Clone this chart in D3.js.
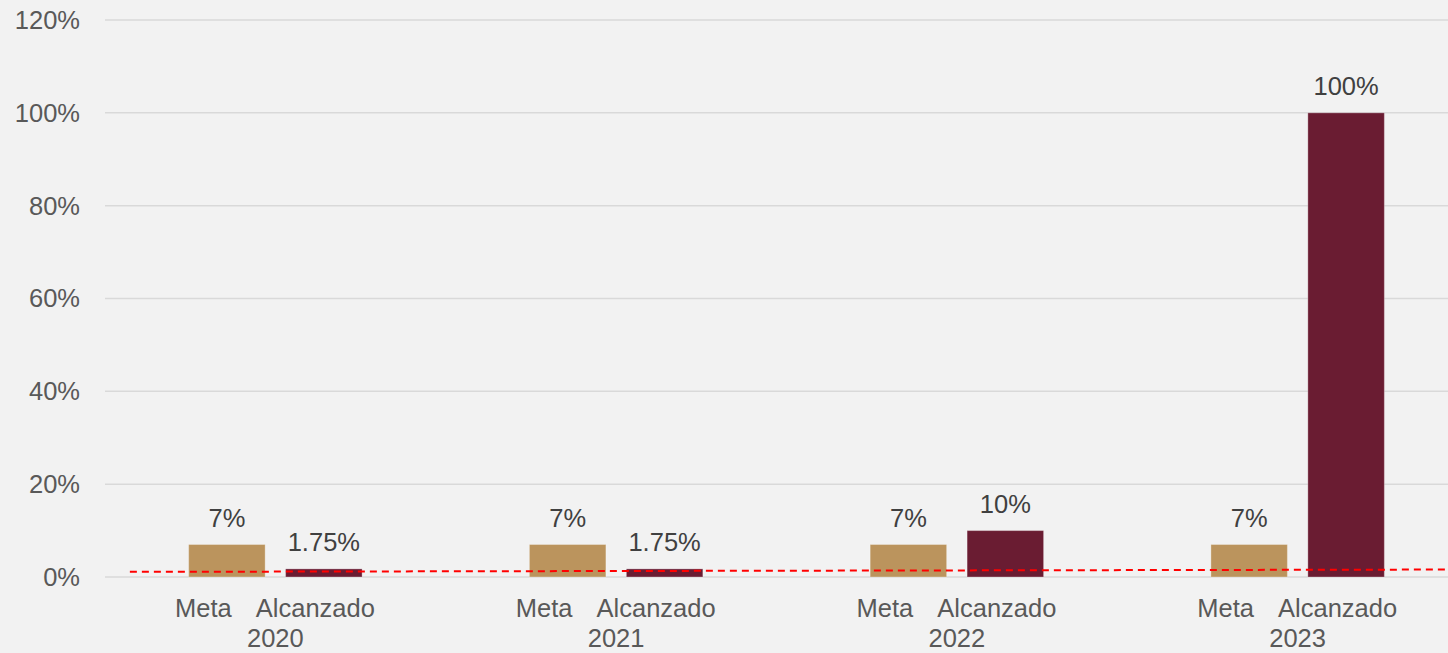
<!DOCTYPE html>
<html>
<head>
<meta charset="utf-8">
<script src="https://cdn.jsdelivr.net/npm/d3@7"></script>
<style>
  body { margin: 0; background: #f2f2f2; }
  svg { display: block; font-family: "Liberation Sans", Arial, sans-serif; }
</style>
</head>
<body>
<div id="chart"></div>
<script>
let years = ["2020", "2021", "2022", "2023"];
let series = ["Meta", "Alcanzado"];
let meta = [7, 7, 7, 7];
let alcanzado = [1.75, 1.75, 10, 100];
let metaLabels = ["7%", "7%", "7%", "7%"];
let alcanzadoLabels = ["1.75%", "1.75%", "10%", "100%"];
let tendencia = [1.16, 1.29, 1.42, 1.55];
let yTicks = [0, 20, 40, 60, 80, 100, 120];

let colors = {Meta: "#bb945d", Alcanzado: "#6a1c32"};

let W = 1448, H = 653;
let margin = {top: 20, left: 105, bottom: 76};
let plotRight = 1468;

let svg = d3.select("#chart")
    .append("svg")
    .attr("width", W)
    .attr("height", H);

svg.append("rect").attr("width", W).attr("height", H).attr("fill", "#f2f2f2");

let y = d3.scaleLinear()
    .domain([0, 120])
    .range([H - margin.bottom - 0, margin.top]);

let x0 = d3.scaleBand()
    .domain(years)
    .range([margin.left, plotRight]);

let inner = x0.bandwidth() * 0.509;
let x1 = d3.scaleBand()
    .domain(series)
    .range([-inner / 2, inner / 2])
    .paddingInner(0.211);

// gridlines
svg.append("g")
    .selectAll("line")
    .data(yTicks)
    .enter()
    .append("line")
    .attr("x1", margin.left)
    .attr("x2", plotRight)
    .attr("y1", d => y(d))
    .attr("y2", d => y(d))
    .attr("stroke", "#d9d9d9")
    .attr("stroke-width", 1.5);

// y labels
svg.append("g")
    .selectAll("text")
    .data(yTicks)
    .enter()
    .append("text")
    .attr("x", margin.left - 25)
    .attr("y", d => y(d))
    .attr("dy", "0.35em")
    .attr("text-anchor", "end")
    .attr("font-size", "25.5px")
    .attr("fill", "#595959")
    .text(d => d + "%");

let rows = [];
years.forEach(function (yr, i) {
    rows.push({year: yr, s: "Meta", v: meta[i], label: metaLabels[i]});
    rows.push({year: yr, s: "Alcanzado", v: alcanzado[i], label: alcanzadoLabels[i]});
});

function cx(d) {
    return x0(d.year) + x0.bandwidth() / 2 + x1(d.s);
}

svg.append("g")
    .selectAll("rect")
    .data(rows)
    .enter()
    .append("rect")
    .attr("x", cx)
    .attr("y", d => y(d.v))
    .attr("width", x1.bandwidth())
    .attr("height", d => y(0) - y(d.v))
    .attr("fill", d => colors[d.s])
    .attr("stroke", "#ffffff")
    .attr("stroke-opacity", 0.3)
    .attr("stroke-width", 1);

// data labels
svg.append("g")
    .selectAll("text")
    .data(rows)
    .enter()
    .append("text")
    .attr("x", d => cx(d) + x1.bandwidth() / 2)
    .attr("y", d => y(d.v) - 18)
    .attr("text-anchor", "middle")
    .attr("font-size", "25.5px")
    .attr("fill", "#404040")
    .text(d => d.label);

// trend line (dashed red), extended a bit before the first group
let centers = years.map(d => x0(d) + x0.bandwidth() / 2);
let n = centers.length;
let mx = d3.mean(centers), my = d3.mean(tendencia);
let slope = d3.sum(centers, (c, i) => (c - mx) * (tendencia[i] - my)) /
    d3.sum(centers, c => (c - mx) * (c - mx));
let xStart = centers[0] - x0.step() * 0.427;
let xEnd = plotRight;
svg.append("line")
    .attr("x1", xStart)
    .attr("x2", xEnd)
    .attr("y1", y(my + slope * (xStart - mx)))
    .attr("y2", y(my + slope * (xEnd - mx)))
    .attr("stroke", "#ff0000")
    .attr("stroke-width", 2)
    .attr("stroke-dasharray", "7,5");

// series labels under each bar
let subOffset = {Meta: -23.5, Alcanzado: -8.5};
svg.append("g")
    .selectAll("text")
    .data(rows)
    .enter()
    .append("text")
    .attr("x", d => cx(d) + x1.bandwidth() / 2 + subOffset[d.s])
    .attr("y", 617)
    .attr("text-anchor", "middle")
    .attr("font-size", "25.5px")
    .attr("fill", "#595959")
    .text(d => d.s);

// year labels
svg.append("g")
    .selectAll("text")
    .data(years)
    .enter()
    .append("text")
    .attr("x", d => x0(d) + x0.bandwidth() / 2)
    .attr("y", 647)
    .attr("text-anchor", "middle")
    .attr("font-size", "25.5px")
    .attr("fill", "#595959")
    .text(d => d);
</script>
</body>
</html>
